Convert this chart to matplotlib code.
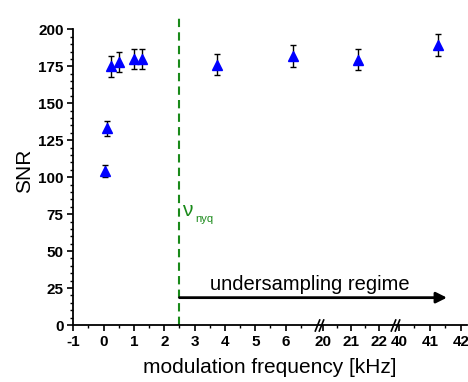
import numpy as np
import matplotlib
matplotlib.use('Agg')
import matplotlib.pyplot as plt
import matplotlib.transforms as mtransforms

plt.rcParams['font.family'] = ['Liberation Sans', 'DejaVu Sans']

# data
freq = [0.05, 0.1, 0.25, 0.5, 1.0, 1.25, 3.75, 6.25, 21.25, 41.25]
snr = [104, 133, 175, 178, 180, 180, 176, 182, 179.5, 189.5]
snr_err = [4, 5, 7, 7, 7, 7, 7, 7.5, 7, 7.5]
major_ticks = [-1, 0, 1, 2, 3, 4, 5, 6, 20, 21, 22, 40, 41, 42]
minor_ticks = [-0.5, 0.5, 1.5, 2.5, 3.5, 4.5, 5.5, 6.5, 20.5, 21.5, 40.5, 41.5]
f_nyq = 2.5

# broken x axis: piecewise linear scale
xp = [-1, 7.05, 19.92, 22.5, 39.92, 42.3]
up = [-1, 7.05, 7.17, 9.544, 9.655, 12.083]

def fwd(x):
    return np.interp(x, xp, up)

def inv(u):
    return np.interp(u, up, xp)

fig = plt.figure(figsize=(4.68, 3.82), dpi=100)
ax = fig.add_axes([0.1566, 0.1492, 0.998 - 0.1566, 0.958 - 0.1492])
ax.set_xscale('function', functions=(fwd, inv))
ax.set_xlim(-1, 42.2)
ax.set_ylim(0, 209)

ax.errorbar(freq, snr, yerr=snr_err, fmt='^', color='blue', markersize=7,
            ecolor='black', elinewidth=1, capsize=2.5, capthick=1, zorder=3)

ax.axvline(f_nyq, color='#1a8a1a', ls=(0, (4, 2.5)), lw=1.5, zorder=2)
ax.text(2.6, 74, 'ν', color='#1a8a1a', fontsize=15, ha='left', va='baseline')
ax.text(3.02, 70, 'nyq', color='#1a8a1a', fontsize=8, ha='left', va='baseline')

ax.annotate('', xy=(41.55, 18.5), xytext=(f_nyq, 18.5),
            arrowprops=dict(arrowstyle='-|>', color='black', lw=2,
                            mutation_scale=16, shrinkA=0, shrinkB=0))
ax.text(6.8, 23.6, 'undersampling regime', fontsize=14.5, ha='center', va='baseline')

ax.spines['top'].set_visible(False)
ax.spines['right'].set_visible(False)
ax.spines['left'].set_bounds(0, 200)
ax.spines['left'].set_linewidth(1.3)
ax.spines['bottom'].set_linewidth(1.3)

ax.set_xticks(major_ticks)
ax.set_xticklabels([str(t) for t in major_ticks])
ax.set_xticks(minor_ticks, minor=True)
ax.set_yticks(np.arange(0, 201, 25))
ax.set_yticks(np.arange(0, 201, 5), minor=True)
ax.tick_params(which='major', length=4, width=1.2, pad=3, labelsize=11)
ax.tick_params(which='minor', length=2.2, width=1.0)
for lab in ax.get_xticklabels() + ax.get_yticklabels():
    lab.set_fontweight('bold')

# break marks on the x axis
trans = mtransforms.blended_transform_factory(ax.transData, ax.transAxes)
ax.plot([7.05, 19.92, 22.5, 39.92], [0, 0, 0, 0], transform=trans, ls='none',
        marker=[(-0.4, -1), (0.4, 1)], markersize=9, mew=1.2,
        mec='black', mfc='none', clip_on=False, zorder=4)

ax.set_xlabel('modulation frequency [kHz]', fontsize=15, labelpad=7)
ax.set_ylabel('SNR', fontsize=15, labelpad=3)

fig.savefig('out.png', dpi=100)
